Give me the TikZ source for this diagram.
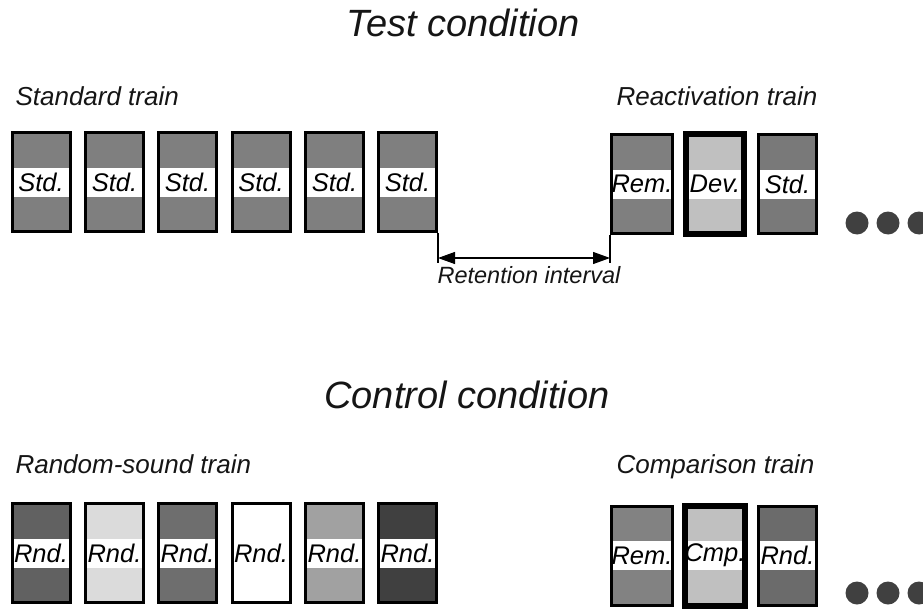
\documentclass[tikz,border=0pt]{standalone}
\usepackage{fontspec}
\setmainfont{Liberation Sans}
\usetikzlibrary{arrows.meta,positioning}

\definecolor{inkgray}{HTML}{151515}
\definecolor{stdfill}{HTML}{7F7F7F}
\definecolor{devfill}{HTML}{C0C0C0}
\definecolor{dotfill}{HTML}{404040}

\tikzset{
  tone/.style={draw=black, line width=3pt, minimum width=58pt, minimum height=99pt,
    inner sep=0pt, text=black, font=\fontsize{25.5}{25.5}\selectfont\itshape,
    path picture={\fill[white] ([yshift=14.5pt]path picture bounding box.west)
      rectangle ([yshift=-14.5pt]path picture bounding box.east);}},
  oddtone/.style={tone, line width=6pt, minimum height=100pt},
  heading/.style={anchor=base, text=inkgray, font=\fontsize{38}{38}\selectfont\itshape},
  trainname/.style={anchor=base west, text=inkgray, font=\fontsize{26}{26}\selectfont\itshape},
  gapline/.style={draw=black, line width=1.1pt},
  more/.style={circle, fill=dotfill, minimum size=23pt, inner sep=0pt}
}

\begin{document}
\begin{tikzpicture}[x=1pt, y=-1pt]
    \path[use as bounding box, clip] (0,0) rectangle (923,610);

    % Test condition
    \node[heading] (testtitle) at (463,37) {Test condition};
    \node[trainname] (stdname) at (12,105) {Standard train};
    \node[trainname] (reactname) at (613,105) {Reactivation train};

    \node[tone, fill=stdfill] (s1) at (41,182) {Std.};
    \node[tone, fill=stdfill] (s2) at (114.5,182) {Std.};
    \node[tone, fill=stdfill] (s3) at (187.5,182) {Std.};
    \node[tone, fill=stdfill] (s4) at (261,182) {Std.};
    \node[tone, fill=stdfill] (s5) at (334.5,182) {Std.};
    \node[tone, fill=stdfill] (s6) at (407.5,182) {Std.};

    \node[tone, fill=stdfill] (rem1) at (642,184) {Rem.};
    \node[oddtone, fill=devfill] (dev) at (715,184) {Dev.};
    \node[tone, fill=stdfill!95!black] (s7) at (787.5,184) {Std.};

    \node[more] (m1) at (857,223) {};
    \node[more] (m2) at (888,223) {};
    \node[more] (m3) at (919,223) {};

    % Retention interval
    \coordinate (gaprow) at (0,258);
    \coordinate (gapfoot) at (0,263);
    \draw[gapline] (s6.south east) -- (s6.south east |- gapfoot);
    \draw[gapline] (rem1.south west) -- (rem1.south west |- gapfoot);
    \draw[gapline, {Triangle[length=17pt,width=12pt]}-{Triangle[length=17pt,width=12pt]}]
        (s6.south east |- gaprow) -- (rem1.south west |- gaprow);
    \node[anchor=base, text=inkgray, font=\fontsize{23.5}{24}\selectfont\itshape]
        (retention) at (529,283) {Retention interval};

    % Control condition
    \node[heading] (controltitle) at (467,408) {Control condition};
    \node[trainname] (rndname) at (12,473) {Random-sound train};
    \node[trainname] (cmpname) at (613,473) {Comparison train};

    \node[tone, fill=black!62] (r1) at (41,553) {Rnd.};
    \node[tone, fill=black!14] (r2) at (114.5,553) {Rnd.};
    \node[tone, fill=black!57] (r3) at (187.5,553) {Rnd.};
    \node[tone, fill=white] (r4) at (261,553) {Rnd.};
    \node[tone, fill=black!37] (r5) at (334.5,553) {Rnd.};
    \node[tone, fill=black!75] (r6) at (407.5,553) {Rnd.};

    \node[tone, fill=black!49] (rem2) at (642,555.5) {Rem.};
    \node[oddtone, fill=devfill] (cmp) at (715,555.5) {Cmp.};
    \node[tone, fill=black!58] (r7) at (787.5,555.5) {Rnd.};

    \node[more] (m4) at (857,593) {};
    \node[more] (m5) at (888,593) {};
    \node[more] (m6) at (919,593) {};
\end{tikzpicture}
\end{document}
